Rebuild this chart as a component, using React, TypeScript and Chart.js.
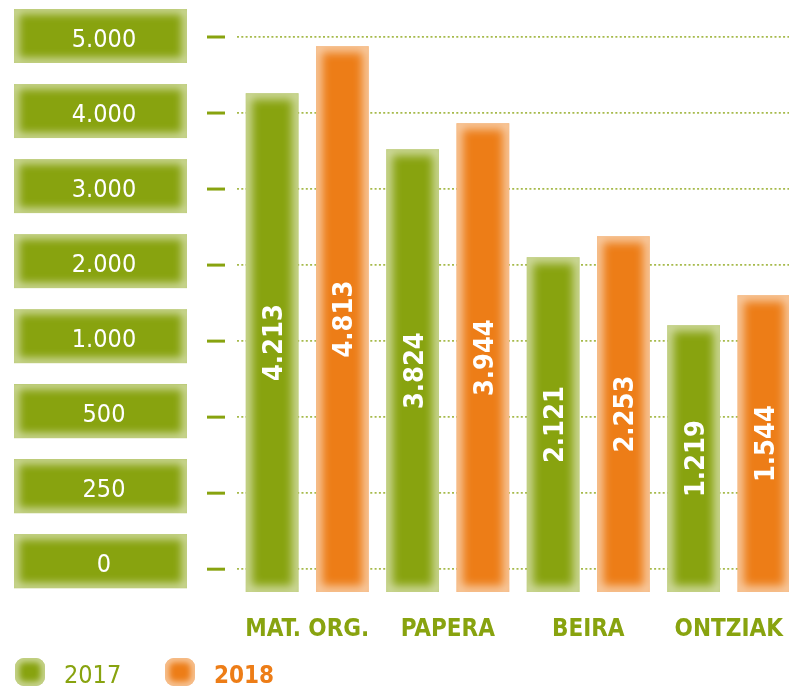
import React, { useEffect, useRef } from "react";
import { Chart, registerables } from "chart.js";

Chart.register(...registerables);

// ---- data ----
const categories = ["MAT. ORG.", "PAPERA", "BEIRA", "ONTZIAK"];
const seriesNames = ["2017", "2018"];
// values printed on the bars
const values2017 = [4213, 3824, 2121, 1219];
const values2018 = [4813, 3944, 2253, 1544];
// bar heights as drawn against the (non-linear) axis
const barLevels2017 = [4260, 3523, 2103, 1209];
const barLevels2018 = [4878, 3865, 2379, 1603];
// axis ticks (evenly spaced, non-linear values)
const yTickValues = [0, 250, 500, 1000, 2000, 3000, 4000, 5000];
const yTickLabels = ["0", "250", "500", "1.000", "2.000", "3.000", "4.000", "5.000"];

// ---- style ----
const GREEN = "#88a30f";
const ORANGE = "#ed7d17";
const GRID = "rgba(136,163,15,0.75)";
const FONT = "'DejaVu Sans Condensed', 'DejaVu Sans', sans-serif";
const Y_MIN = -0.3;

function toAxis(v: number): number {
  for (let i = 0; i < yTickValues.length - 1; i++) {
    const a = yTickValues[i];
    const b = yTickValues[i + 1];
    if (v <= b || i === yTickValues.length - 2) {
      return i + (v - a) / (b - a);
    }
  }
  return 0;
}

const fmt = (v: number) => new Intl.NumberFormat("de-DE").format(v);

function glow(ctx: CanvasRenderingContext2D, x: number, y: number, w: number, h: number, r = 0, lw = 12, blur = 5) {
  ctx.save();
  ctx.beginPath();
  if (r > 0) (ctx as any).roundRect(x, y, w, h, r);
  else ctx.rect(x, y, w, h);
  ctx.clip();
  ctx.filter = `blur(${blur}px)`;
  ctx.strokeStyle = "rgba(255,255,255,0.6)";
  ctx.lineWidth = lw;
  ctx.beginPath();
  if (r > 0) (ctx as any).roundRect(x, y, w, h, r);
  else ctx.rect(x, y, w, h);
  ctx.stroke();
  ctx.restore();
}

const valueLabels = [values2017, values2018];

const decorPlugin = {
  id: "decor",
  beforeDatasetsDraw(chart: any) {
    const ctx: CanvasRenderingContext2D = chart.ctx;
    const y = chart.scales.y;
    ctx.save();
    yTickLabels.forEach((lab, i) => {
      const ty = y.getPixelForValue(i);
      const cy = ty - 8 + i;
      ctx.fillStyle = GREEN;
      ctx.fillRect(14, cy - 27, 173, 54);
      glow(ctx, 14, cy - 27, 173, 54, 0, 10, 4);
      ctx.fillStyle = "#ffffff";
      ctx.font = `25px ${FONT}`;
      ctx.textAlign = "center";
      ctx.textBaseline = "alphabetic";
      ctx.fillText(lab, 104, cy + 10.5);
      ctx.strokeStyle = GREEN;
      ctx.lineWidth = 3;
      ctx.beginPath();
      ctx.moveTo(207, ty);
      ctx.lineTo(225, ty);
      ctx.stroke();
    });
    ctx.restore();
  },
  afterDatasetsDraw(chart: any) {
    const ctx: CanvasRenderingContext2D = chart.ctx;
    chart.data.datasets.forEach((_ds: any, di: number) => {
      const meta = chart.getDatasetMeta(di);
      meta.data.forEach((el: any, j: number) => {
        const { x, y, base, width } = el.getProps(["x", "y", "base", "width"], true);
        glow(ctx, x - width / 2, y, width, base - y);
        ctx.save();
        ctx.translate(x, (y + base) / 2);
        ctx.rotate(-Math.PI / 2);
        ctx.font = `bold 27px ${FONT}`;
        ctx.fillStyle = "#ffffff";
        ctx.textAlign = "center";
        ctx.textBaseline = "alphabetic";
        ctx.fillText(fmt(valueLabels[di][j]), 0, 10);
        ctx.restore();
      });
    });
  },
  afterDraw(chart: any) {
    const ctx: CanvasRenderingContext2D = chart.ctx;
    const items = [
      { x: 15, color: GREEN, text: seriesNames[0], bold: false, tx: 64 },
      { x: 165, color: ORANGE, text: seriesNames[1], bold: true, tx: 214 },
    ];
    ctx.save();
    items.forEach((it) => {
      ctx.fillStyle = it.color;
      ctx.beginPath();
      (ctx as any).roundRect(it.x, 658, 30, 28, 9);
      ctx.fill();
      glow(ctx, it.x, 658, 30, 28, 9, 8, 3);
      ctx.fillStyle = it.color;
      ctx.font = `${it.bold ? "bold 24px" : "25px"} ${FONT}`;
      ctx.textAlign = "left";
      ctx.textBaseline = "alphabetic";
      ctx.fillText(it.text, it.tx, 683);
    });
    ctx.restore();
  },
};

export default function App() {
  const ref = useRef<HTMLCanvasElement | null>(null);
  useEffect(() => {
    document.body.style.margin = "0";
    const canvas = ref.current!;
    const chart = new Chart(canvas, {
      type: "bar",
      data: {
        labels: categories,
        datasets: [
          {
            label: seriesNames[0],
            data: barLevels2017.map(toAxis),
            backgroundColor: GREEN,
            borderWidth: 0,
            base: Y_MIN,
            barPercentage: 0.75,
            categoryPercentage: 1.0,
          } as any,
          {
            label: seriesNames[1],
            data: barLevels2018.map(toAxis),
            backgroundColor: ORANGE,
            borderWidth: 0,
            base: Y_MIN,
            barPercentage: 0.75,
            categoryPercentage: 1.0,
          } as any,
        ],
      },
      options: {
        animation: false,
        responsive: false,
        devicePixelRatio: 1,
        layout: { padding: { top: 37, right: 1, left: 0, bottom: 0 } },
        plugins: {
          legend: { display: false },
          tooltip: { enabled: false },
        },
        scales: {
          x: {
            grid: { display: false, drawTicks: false },
            border: { display: false },
            ticks: {
              color: GREEN,
              font: { family: FONT, size: 24, weight: "bold" },
              padding: 23,
              maxRotation: 0,
            },
            afterFit: (s: any) => {
              s.height = 95;
              s.paddingLeft = 0;
              s.paddingRight = 0;
            },
          },
          y: {
            min: Y_MIN,
            max: yTickValues.length - 1,
            grid: { color: GRID, lineWidth: 1.7, drawTicks: false },
            border: { display: false, dash: [2, 2.3] },
            ticks: { display: false },
            afterBuildTicks: (s: any) => {
              s.ticks = yTickValues.map((_v, i) => ({ value: i }));
            },
            afterFit: (s: any) => {
              s.width = 237;
            },
          },
        },
      },
      plugins: [decorPlugin],
    });
    return () => chart.destroy();
  }, []);
  return (
    <div style={{ position: "absolute", left: 0, top: 0, width: 789, height: 687, overflow: "hidden", background: "#fff" }}>
      <canvas ref={ref} width={800} height={687} style={{ display: "block", width: 800, height: 687 }} />
    </div>
  );
}
